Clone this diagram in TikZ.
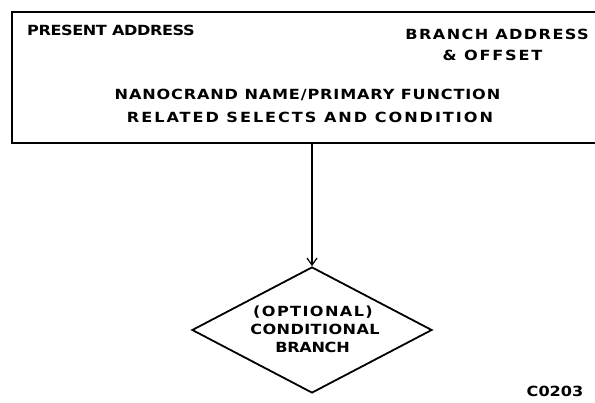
\documentclass[tikz,border=0pt]{standalone}
\usepackage{fontspec}
\setmainfont{DejaVu Sans}[FakeStretch=1.15]
\usetikzlibrary{shapes.geometric,arrows.meta}
\newcommand{\ls}[1]{\addfontfeature{LetterSpace=#1}}
\begin{document}
\begin{tikzpicture}[x=1pt,y=-1pt,
  lbl/.style={font=\bfseries\fontsize{14}{15}\selectfont\ls{#1}, inner sep=0pt},
  frame/.style={line width=1.8pt},
  conn/.style={line width=1.2pt, -{Straight Barb[length=7pt,width=10pt,line width=1.2pt]}}]
\useasboundingbox (0,0) rectangle (595,403);
\draw[frame] (598,12) -- (12,12) -- (12,143) -- (598,143);
\node[lbl=-3, anchor=west] (pa) at (27,30) {PRESENT ADDRESS};
\node[lbl=10, anchor=east] (ba) at (589,34) {BRANCH ADDRESS};
\node[lbl=13] (off) at (492.5,55) {\& OFFSET};
\node[lbl=6] (nn) at (307.5,95) {NANOCRAND NAME/PRIMARY FUNCTION};
\node[lbl=14] (rs) at (310,117) {RELATED SELECTS AND CONDITION};
\coordinate (src) at (312,143);
\node[draw, diamond, line width=1.8pt, minimum width=240pt, minimum height=126pt, inner sep=0pt] (d) at (312,330) {};
\node[lbl=10] (d1) at (313,312) {(OPTIONAL)};
\node[lbl=3] (d2) at (315,329) {CONDITIONAL};
\node[lbl=-2] (d3) at (312.5,347) {BRANCH};
\draw[conn] (src) -- (d.north);
\node[lbl=0] (id) at (555,391) {C0203};
\end{tikzpicture}
\end{document}
